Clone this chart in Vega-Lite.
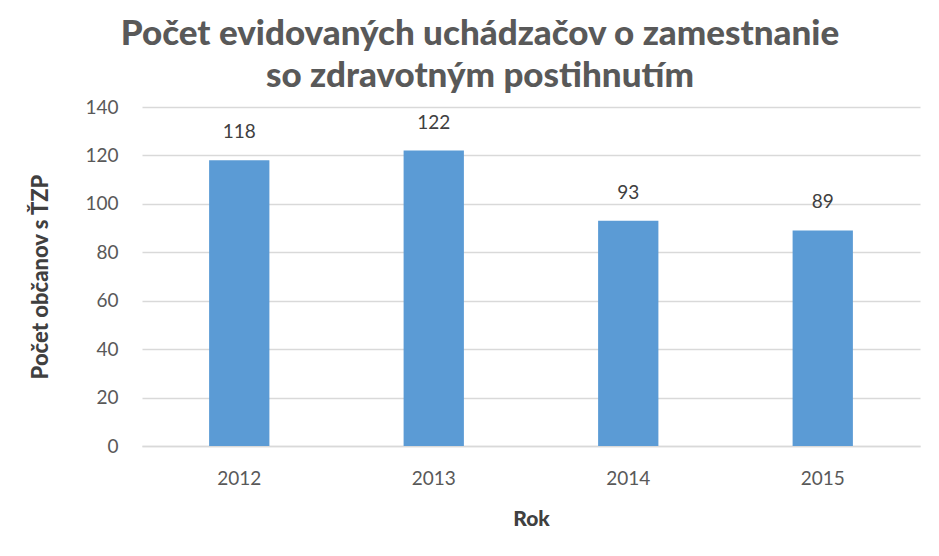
{
  "$schema": "https://vega.github.io/schema/vega-lite/v6.json",
  "autosize": {"type": "none"},
  "width": 778,
  "height": 339,
  "padding": {"left": 142, "top": 107, "right": 19, "bottom": 110},
  "background": "white",
  "title": {
    "text": ["Počet evidovaných uchádzačov o zamestnanie", "so zdravotným postihnutím"],
    "font": "Lato",
    "fontSize": 35,
    "fontWeight": 900,
    "color": "#595959",
    "anchor": "middle",
    "offset": 4,
    "lineHeight": 42,
    "dx": -51
  },
  "data": {
    "values": [
      {"Rok": "2012", "Pocet": 118},
      {"Rok": "2013", "Pocet": 122},
      {"Rok": "2014", "Pocet": 93},
      {"Rok": "2015", "Pocet": 89}
    ]
  },
  "encoding": {
    "x": {
      "field": "Rok", "type": "nominal", "title": "Rok",
      "scale": {"paddingInner": 0.69, "paddingOuter": 0.345},
      "axis": {"labelAngle": 0, "ticks": false, "labelPadding": 23, "titlePadding": 20,
               "domainColor": "#d9d9d9", "domainWidth": 1.5}
    },
    "y": {
      "field": "Pocet", "type": "quantitative", "title": "Počet občanov  s ŤZP",
      "scale": {"domain": [0, 140]},
      "axis": {"values": [0, 20, 40, 60, 80, 100, 120, 140], "ticks": false, "domain": false,
               "labelPadding": 24, "titlePadding": 32, "titleFontSize": 22,
               "gridColor": "#d9d9d9", "gridWidth": 1.3}
    }
  },
  "layer": [
    {"mark": {"type": "bar", "color": "#5b9bd5"}},
    {"mark": {"type": "text", "dy": -28, "fontSize": 19, "color": "#404040", "font": "Lato"},
     "encoding": {"text": {"field": "Pocet", "type": "quantitative"}}}
  ],
  "config": {
    "axis": {"labelFont": "Lato", "labelFontSize": 19, "labelColor": "#595959",
             "titleFont": "Lato", "titleFontSize": 21, "titleFontWeight": 900, "titleColor": "#404040"},
    "view": {"stroke": null}
  }
}
